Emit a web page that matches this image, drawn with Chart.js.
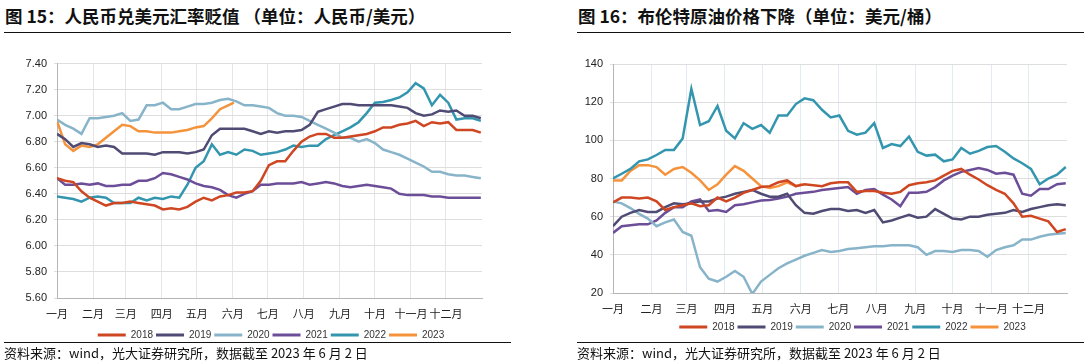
<!DOCTYPE html>
<html>
<head>
<meta charset="utf-8">
<script src="https://cdn.jsdelivr.net/npm/chart.js@4.4.0/dist/chart.umd.min.js"></script>
<style>
  html, body { margin: 0; padding: 0; background: #fff; }
  body { width: 1088px; height: 364px; position: relative; overflow: hidden; }
  .title { position: absolute; top: 5px; font: bold 17.5px "Noto Sans CJK SC", sans-serif; color: #111; line-height: 22px; white-space: nowrap; }
  .rule { position: absolute; height: 0; border-top: 1px solid #111; }
  .source { position: absolute; top: 344px; font: 13px "Noto Sans CJK SC", sans-serif; color: #111; line-height: 18px; white-space: nowrap; }
  canvas { position: absolute; }
</style>
</head>
<body>
<div class="title" style="left:5px">图 15：人民币兑美元汇率贬值 （单位：人民币/美元）</div>
<div class="rule" style="left:4px; width:507px; top:32px"></div>
<canvas id="fxChart" width="520" height="300" style="left:0px; top:50px"></canvas>
<div class="rule" style="left:4px; width:507px; top:342px"></div>
<div class="source" style="left:4px">资料来源：wind，光大证券研究所，数据截至 2023 年 6 月 2 日</div>

<div class="title" style="left:578px">图 16：布伦特原油价格下降（单位：美元/桶）</div>
<div class="rule" style="left:577px; width:507px; top:32px"></div>
<canvas id="oilChart" width="544" height="292" style="left:544px; top:50px"></canvas>
<div class="rule" style="left:577px; width:507px; top:342px"></div>
<div class="source" style="left:577px">资料来源：wind，光大证券研究所，数据截至 2023 年 6 月 2 日</div>

<script>
// --- AXIS LABELS ---
const monthLabels = ['一月', '二月', '三月', '四月', '五月', '六月', '七月', '八月', '九月', '十月', '十一月', '十二月'];
const monthStarts = [0, 31, 59, 90, 120, 151, 181, 212, 243, 273, 304, 334];
const yearNames = ['2018', '2019', '2020', '2021', '2022', '2023'];

// day of year for each weekly reading
const days = [0, 7, 14, 21, 28, 35, 42, 49, 56, 63, 70, 77, 84, 91, 98, 105, 112, 119, 126, 133,
  140, 147, 154, 161, 168, 175, 182, 189, 196, 203, 210, 217, 224, 231, 238, 245, 252, 259, 266,
  273, 280, 287, 294, 301, 308, 315, 322, 329, 336, 343, 350, 357, 364];
const days2023 = [0, 7, 14, 21, 28, 35, 42, 49, 56, 63, 70, 77, 84, 91, 98, 105, 112, 119, 126, 133, 140, 147, 152];

// --- USD/CNY (人民币/美元) ---
const fx2018 = [6.52, 6.50, 6.49, 6.42, 6.37, 6.34, 6.31, 6.33, 6.33, 6.34, 6.33, 6.32, 6.31, 6.28, 6.29, 6.28, 6.30, 6.34, 6.37, 6.35,
  6.38, 6.39, 6.41, 6.41, 6.42, 6.50, 6.62, 6.65, 6.65, 6.73, 6.80, 6.84, 6.86, 6.86, 6.83, 6.83, 6.84, 6.85, 6.86, 6.88,
  6.91, 6.91, 6.93, 6.94, 6.96, 6.92, 6.95, 6.94, 6.95, 6.89, 6.89, 6.89, 6.87];
const fx2019 = [6.86, 6.82, 6.76, 6.79, 6.78, 6.76, 6.77, 6.76, 6.71, 6.71, 6.71, 6.71, 6.70, 6.72, 6.72, 6.72, 6.71, 6.72, 6.74, 6.85,
  6.90, 6.90, 6.90, 6.90, 6.88, 6.86, 6.88, 6.87, 6.88, 6.88, 6.89, 6.93, 7.03, 7.05, 7.07, 7.09, 7.09, 7.08, 7.08, 7.08,
  7.08, 7.08, 7.07, 7.06, 7.02, 7.00, 7.01, 7.04, 7.03, 7.04, 7.00, 7.00, 6.98];
const fx2020 = [6.97, 6.93, 6.90, 6.86, 6.98, 6.98, 6.99, 7.00, 7.02, 6.96, 6.97, 7.08, 7.08, 7.10, 7.05, 7.05, 7.07, 7.09, 7.09, 7.10,
  7.12, 7.13, 7.11, 7.08, 7.08, 7.07, 7.06, 7.02, 7.00, 7.00, 6.99, 6.96, 6.93, 6.90, 6.87, 6.83, 6.83, 6.80, 6.82, 6.79,
  6.74, 6.72, 6.70, 6.67, 6.64, 6.61, 6.57, 6.57, 6.55, 6.54, 6.54, 6.53, 6.52];
const fx2021 = [6.52, 6.47, 6.47, 6.48, 6.47, 6.48, 6.46, 6.46, 6.47, 6.47, 6.50, 6.50, 6.52, 6.56, 6.55, 6.53, 6.51, 6.48, 6.46, 6.45,
  6.43, 6.39, 6.37, 6.40, 6.42, 6.47, 6.47, 6.48, 6.48, 6.48, 6.49, 6.47, 6.48, 6.49, 6.48, 6.46, 6.45, 6.46, 6.47, 6.46,
  6.45, 6.44, 6.40, 6.39, 6.39, 6.39, 6.38, 6.38, 6.37, 6.37, 6.37, 6.37, 6.37];
const fx2022 = [6.38, 6.37, 6.36, 6.34, 6.37, 6.38, 6.37, 6.33, 6.33, 6.33, 6.37, 6.35, 6.37, 6.36, 6.38, 6.37, 6.47, 6.60, 6.65, 6.78,
  6.70, 6.72, 6.70, 6.74, 6.73, 6.70, 6.71, 6.72, 6.74, 6.77, 6.76, 6.77, 6.77, 6.82, 6.85, 6.88, 6.91, 6.95, 7.02, 7.10,
  7.105, 7.12, 7.14, 7.18, 7.25, 7.21, 7.08, 7.16, 7.10, 6.97, 6.98, 6.98, 6.96];
const fx2023 = [6.96, 6.78, 6.73, 6.77, 6.76, 6.78, 6.83, 6.88, 6.93, 6.92, 6.88, 6.88, 6.87, 6.87, 6.87, 6.88, 6.89, 6.91, 6.92, 6.98,
  7.05, 7.08, 7.10];

// --- Brent (美元/桶) ---
const oil2018 = [67.5, 70, 70, 69.5, 70, 68, 63.5, 65, 66, 67, 65.5, 66, 70, 68, 70, 72.5, 74, 75.5, 76, 78,
  79, 76, 77, 76.5, 76, 77.5, 78, 78, 73, 73.5, 73.5, 72.5, 72, 73, 76.5, 77.5, 78, 79, 81.5, 84,
  85, 82, 79.5, 76.5, 74, 72, 67, 60, 60.5, 59, 57.5, 52, 53.5];
const oil2019 = [55, 60, 62, 63.5, 62.5, 62.5, 65, 67, 66.5, 67, 68, 68, 69.5, 70.5, 72, 73, 74, 72, 70.5, 70.5,
  72, 66, 62, 61.5, 63, 64, 64, 63, 63.5, 62, 63.5, 57, 58, 59.5, 61, 59.5, 60, 64, 61.5, 59,
  58.5, 60, 60, 61, 61.5, 62, 63.5, 62.5, 64, 65, 66, 66.5, 66];
const oil2020 = [68, 67, 64.5, 61.5, 59, 55, 57, 58.5, 52, 50, 33.5, 27.5, 26, 28.5, 31.5, 28.5, 19.5, 26, 29.5, 33,
  35.5, 37.5, 39.5, 41, 42.5, 41.5, 42, 43, 43.5, 44, 44.5, 44.5, 45, 45, 45, 44, 40, 42, 42, 41.5,
  42.5, 42.5, 42, 39, 42.5, 44, 45, 48, 48, 49.5, 50.5, 51, 51.5];
const oil2021 = [51.5, 55, 55.5, 56, 56, 58, 62, 65, 65, 68, 69, 63, 63.5, 62.5, 66, 66.5, 67.5, 68.5, 68.7, 69.5,
  70.5, 72, 72.5, 73, 74, 74.5, 75, 75.5, 72, 74, 74.5, 71.5, 69, 65.5, 72.5, 72.5, 73, 75.5, 79, 81.5,
  83.5, 84.5, 85.5, 84.5, 82.5, 83, 82, 72, 71, 74.5, 74.5, 77, 77.5];
const oil2022 = [80, 82.5, 85, 89, 90, 92.3, 95, 95, 101, 127, 108, 110, 118, 105, 101, 109, 106, 108, 104, 113,
  113, 119, 122, 121, 116, 112, 113, 105, 103, 104, 109, 96, 98, 97, 102, 94, 92, 92.5, 89, 90,
  96, 93, 94.5, 96.5, 97, 94, 90.5, 88, 85, 77, 80, 82, 86];
const oil2023 = [79, 79, 84, 87, 87, 86, 82, 85, 86, 83, 79, 74, 77, 82, 86.5, 84, 80, 76, 75, 76,
  78, 76, 77];

const lineColors = ['#cf4722', '#4f4b74', '#88b4ca', '#6c4e98', '#3396ae', '#f5933d'];

// --- HELPERS ---
function toPoints(xs, ys) {
  return ys.map((y, i) => ({ x: xs[i], y: y }));
}

function buildDatasets(series) {
  return series.map((values, i) => ({
    label: yearNames[i],
    data: toPoints(i === 5 ? days2023 : days, values),
    borderColor: lineColors[i],
    backgroundColor: lineColors[i],
    borderWidth: 2.5,
    pointRadius: 0,
    tension: 0,
    fill: false
  }));
}

// moves the legend sideways so it sits where the original one sits
const legendShift = {
  id: 'legendShift',
  afterLayout(chart, args, opts) {
    const lg = chart.legend;
    if (lg && opts.dx) {
      lg.left += opts.dx;
      lg.right += opts.dx;
    }
  }
};

Chart.defaults.font.family = "'Liberation Sans', Arial, sans-serif";
Chart.defaults.color = '#333';

function makeChart(canvasId, series, cfg) {
  const ctx = document.getElementById(canvasId).getContext('2d');
  return new Chart(ctx, {
    type: 'line',
    data: { datasets: buildDatasets(series) },
    plugins: [legendShift],
    options: {
      responsive: false,
      animation: false,
      events: [],
      layout: { padding: { left: 0, right: cfg.padRight, top: cfg.padTop, bottom: 0 } },
      plugins: {
        tooltip: { enabled: false },
        legendShift: { dx: cfg.legendDx },
        legend: {
          position: 'bottom',
          labels: {
            boxWidth: 28,
            boxHeight: 3,
            padding: 3,
            color: '#333',
            font: { size: 10 },
            generateLabels(chart) {
              return Chart.defaults.plugins.legend.labels.generateLabels(chart)
                .map(item => Object.assign(item, { lineWidth: 0 }));
            }
          }
        }
      },
      scales: {
        x: {
          type: 'linear',
          min: 0,
          max: 365,
          afterBuildTicks: (scale) => { scale.ticks = monthStarts.map(v => ({ value: v })); },
          afterFit: (scale) => { scale.height = cfg.xHeight; },
          ticks: {
            autoSkip: false,
            maxRotation: 0,
            padding: 9,
            color: '#222',
            font: { family: "'Noto Sans CJK SC', sans-serif", size: 11 },
            callback: (v) => monthLabels[monthStarts.indexOf(v)]
          },
          grid: { color: cfg.vGrid, drawTicks: false },
          border: { color: '#b5b5b5', width: 1 }
        },
        y: {
          min: cfg.yMin,
          max: cfg.yMax,
          afterFit: (scale) => { scale.width = cfg.yWidth; },
          ticks: {
            stepSize: cfg.yStep,
            padding: 7,
            color: '#222',
            font: { size: 11 },
            callback: cfg.yFormat
          },
          grid: { color: '#dedede', tickLength: 3 },
          border: { color: '#b5b5b5', width: 1 }
        }
      }
    }
  });
}

makeChart('fxChart', [fx2018, fx2019, fx2020, fx2021, fx2022, fx2023], {
  yMin: 5.6, yMax: 7.4, yStep: 0.2, yWidth: 57,
  yFormat: (v) => v.toFixed(2),
  padRight: 38, padTop: 11, xHeight: 29, legendDx: 30,
  vGrid: '#e6e6e6'
});

makeChart('oilChart', [oil2018, oil2019, oil2020, oil2021, oil2022, oil2023], {
  yMin: 20, yMax: 140, yStep: 20, yWidth: 69,
  yFormat: (v) => v,
  padRight: 21, padTop: 14, xHeight: 26, legendDx: 47,
  vGrid: '#e3ebf2'
});
</script>
</body>
</html>
